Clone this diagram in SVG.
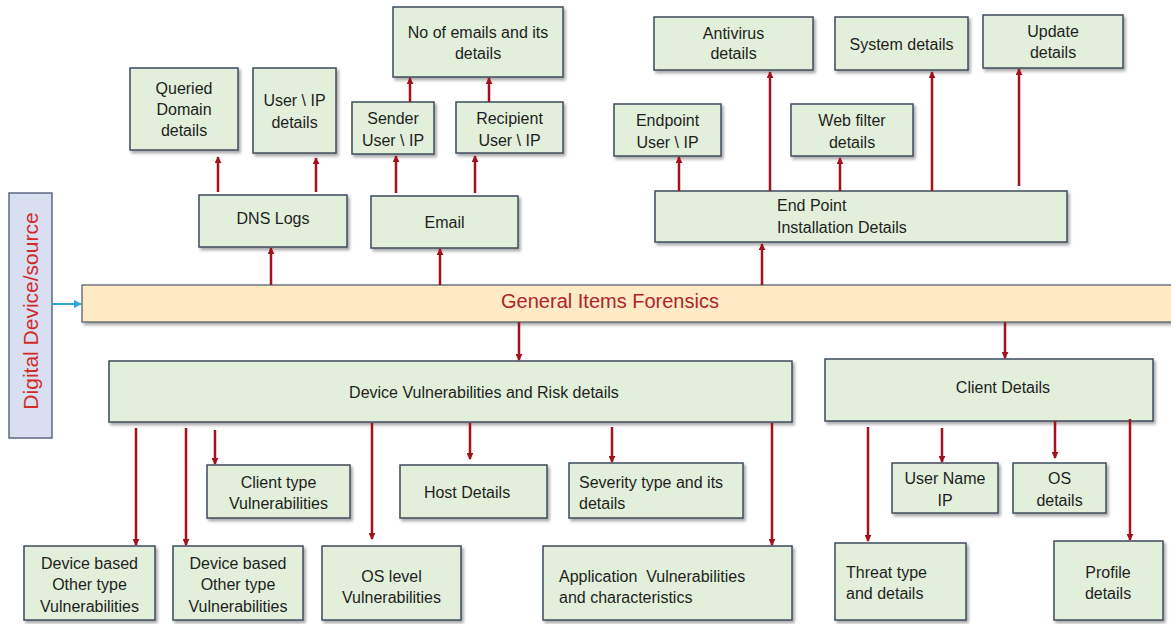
<svg xmlns="http://www.w3.org/2000/svg" width="1171" height="624" viewBox="0 0 1171 624">
  <defs>
    <filter id="shadow" x="-10%" y="-10%" width="125%" height="140%">
      <feDropShadow dx="2" dy="2.5" stdDeviation="1.5" flood-color="#000" flood-opacity="0.35"/>
    </filter>
    <marker id="head" viewBox="0 0 8 8" refX="7" refY="4" markerWidth="7" markerHeight="7" markerUnits="userSpaceOnUse" orient="auto">
      <path d="M0,0 L8,4 L0,8 z" fill="#A3111E"/>
    </marker>
    <marker id="headBlue" viewBox="0 0 8 8" refX="7" refY="4" markerWidth="8" markerHeight="8" markerUnits="userSpaceOnUse" orient="auto">
      <path d="M0,0 L8,4 L0,8 z" fill="#2FA6D8"/>
    </marker>
  </defs>
  <style>
    .box { fill: #E2EFDA; stroke: #3E4B5C; stroke-width: 1.5; filter: url(#shadow); }
    .bar { fill: #FEEBC6; stroke: #4A5566; stroke-width: 1.2; filter: url(#shadow); }
    .src { fill: #D7DFF1; stroke: #5C6A84; stroke-width: 1.5; }
    text { font-family: "Liberation Sans", Arial, sans-serif; font-size: 16px; fill: #1E1E1E; }
    .c { text-anchor: middle; }
    .title { font-size: 20px; fill: #B0232A; text-anchor: middle; }
    .vert { font-size: 21px; fill: #D22A2A; text-anchor: middle; }
    .conn line { stroke: #A3111E; stroke-width: 2.5; marker-end: url(#head); }
    .conn line.blue { stroke: #2FA6D8; stroke-width: 2; marker-end: url(#headBlue); }
  </style>

  <rect width="1171" height="624" fill="#FFFFFF"/>

  <!-- source column -->
  <g id="digital-device">
    <rect class="src" x="9" y="193" width="43" height="245"/>
    <text class="vert" transform="translate(38,311) rotate(-90)">Digital Device/source</text>
  </g>

  <!-- central bar -->
  <g id="general-items">
    <rect class="bar" x="82" y="285" width="1095" height="37"/>
    <text class="title" x="610" y="308">General Items Forensics</text>
  </g>

  <!-- DNS branch -->
  <g id="queried-domain">
    <rect class="box" x="130" y="68" width="108" height="82"/>
    <text class="c" x="184" y="94">Queried</text>
    <text class="c" x="184" y="115">Domain</text>
    <text class="c" x="184" y="136">details</text>
  </g>
  <g id="dns-user-ip">
    <rect class="box" x="253" y="68" width="83" height="85"/>
    <text class="c" x="294.5" y="106">User \ IP</text>
    <text class="c" x="294.5" y="128">details</text>
  </g>
  <g id="dns-logs">
    <rect class="box" x="199" y="195" width="148" height="52"/>
    <text class="c" x="273" y="224">DNS Logs</text>
  </g>

  <!-- Email branch -->
  <g id="no-of-emails">
    <rect class="box" x="393" y="7" width="170" height="70"/>
    <text class="c" x="478" y="38">No of emails and its</text>
    <text class="c" x="478" y="59">details</text>
  </g>
  <g id="sender">
    <rect class="box" x="352" y="102" width="82" height="52"/>
    <text class="c" x="393" y="124">Sender</text>
    <text class="c" x="393" y="146">User \ IP</text>
  </g>
  <g id="recipient">
    <rect class="box" x="456" y="102" width="107" height="51"/>
    <text class="c" x="509.5" y="124">Recipient</text>
    <text class="c" x="509.5" y="146">User \ IP</text>
  </g>
  <g id="email">
    <rect class="box" x="371" y="196" width="147" height="52"/>
    <text class="c" x="444.5" y="228">Email</text>
  </g>

  <!-- End point branch -->
  <g id="antivirus">
    <rect class="box" x="654" y="17" width="159" height="53"/>
    <text class="c" x="733.5" y="39">Antivirus</text>
    <text class="c" x="733.5" y="59">details</text>
  </g>
  <g id="system-details">
    <rect class="box" x="835" y="17" width="133" height="53"/>
    <text class="c" x="901.5" y="50">System details</text>
  </g>
  <g id="update-details">
    <rect class="box" x="983" y="15" width="140" height="53"/>
    <text class="c" x="1053" y="37">Update</text>
    <text class="c" x="1053" y="58">details</text>
  </g>
  <g id="endpoint-user">
    <rect class="box" x="614" y="104" width="107" height="52"/>
    <text class="c" x="667.5" y="126">Endpoint</text>
    <text class="c" x="667.5" y="148">User \ IP</text>
  </g>
  <g id="web-filter">
    <rect class="box" x="791" y="104" width="122" height="52"/>
    <text class="c" x="852" y="126">Web filter</text>
    <text class="c" x="852" y="148">details</text>
  </g>
  <g id="endpoint-install">
    <rect class="box" x="655" y="191" width="412" height="51"/>
    <text x="777" y="211">End Point</text>
    <text x="777" y="233">Installation Details</text>
  </g>

  <!-- Vulnerability branch -->
  <g id="device-vuln">
    <rect class="box" x="109" y="361" width="683" height="61"/>
    <text class="c" x="484" y="398">Device Vulnerabilities and Risk details</text>
  </g>
  <g id="client-type">
    <rect class="box" x="207" y="465" width="143" height="53"/>
    <text class="c" x="278.5" y="488">Client type</text>
    <text class="c" x="278.5" y="509">Vulnerabilities</text>
  </g>
  <g id="host-details">
    <rect class="box" x="400" y="465" width="147" height="53"/>
    <text class="c" x="467" y="498">Host Details</text>
  </g>
  <g id="severity">
    <rect class="box" x="569" y="463" width="174" height="55"/>
    <text x="579" y="488">Severity type and its</text>
    <text x="579" y="509">details</text>
  </g>
  <g id="device-based-1">
    <rect class="box" x="24" y="546" width="131" height="74"/>
    <text class="c" x="89.5" y="569">Device based</text>
    <text class="c" x="89.5" y="590">Other type</text>
    <text class="c" x="89.5" y="612">Vulnerabilities</text>
  </g>
  <g id="device-based-2">
    <rect class="box" x="173" y="546" width="130" height="74"/>
    <text class="c" x="238" y="569">Device based</text>
    <text class="c" x="238" y="590">Other type</text>
    <text class="c" x="238" y="612">Vulnerabilities</text>
  </g>
  <g id="os-level">
    <rect class="box" x="322" y="546" width="139" height="74"/>
    <text class="c" x="391.5" y="582">OS level</text>
    <text class="c" x="391.5" y="603">Vulnerabilities</text>
  </g>
  <g id="application">
    <rect class="box" x="543" y="546" width="249" height="74"/>
    <text x="559" y="582" xml:space="preserve">Application  Vulnerabilities</text>
    <text x="559" y="603">and characteristics</text>
  </g>

  <!-- Client branch -->
  <g id="client-details">
    <rect class="box" x="825" y="359" width="328" height="62"/>
    <text class="c" x="1003" y="393">Client Details</text>
  </g>
  <g id="user-name">
    <rect class="box" x="892" y="463" width="106" height="50"/>
    <text class="c" x="945" y="484">User Name</text>
    <text class="c" x="945" y="506">IP</text>
  </g>
  <g id="os-details">
    <rect class="box" x="1013" y="463" width="93" height="50"/>
    <text class="c" x="1059.5" y="484">OS</text>
    <text class="c" x="1059.5" y="506">details</text>
  </g>
  <g id="threat-type">
    <rect class="box" x="835" y="543" width="131" height="77"/>
    <text x="846" y="578">Threat type</text>
    <text x="846" y="599">and details</text>
  </g>
  <g id="profile-details">
    <rect class="box" x="1054" y="541" width="109" height="79"/>
    <text class="c" x="1108" y="578">Profile</text>
    <text class="c" x="1108" y="599">details</text>
  </g>

  <!-- connectors -->
  <g id="connectors" class="conn">
    <line class="blue" x1="52" y1="304" x2="81" y2="304"/>
    <!-- upward -->
    <line x1="218" y1="192" x2="218" y2="157"/>
    <line x1="316" y1="192" x2="316" y2="158"/>
    <line x1="271" y1="285" x2="271" y2="248"/>
    <line x1="440" y1="285" x2="440" y2="249"/>
    <line x1="396" y1="193" x2="396" y2="156"/>
    <line x1="475" y1="193" x2="475" y2="156"/>
    <line x1="410" y1="102" x2="410" y2="78"/>
    <line x1="489" y1="102" x2="489" y2="78"/>
    <line x1="679" y1="191" x2="679" y2="157"/>
    <line x1="770" y1="191" x2="770" y2="72"/>
    <line x1="840" y1="191" x2="840" y2="158"/>
    <line x1="932" y1="191" x2="932" y2="72"/>
    <line x1="1019" y1="186" x2="1019" y2="69"/>
    <line x1="762" y1="285" x2="762" y2="244"/>
    <!-- downward -->
    <line x1="519" y1="322" x2="519" y2="360"/>
    <line x1="1005" y1="322" x2="1005" y2="358"/>
    <line x1="136" y1="428" x2="136" y2="545"/>
    <line x1="186" y1="428" x2="186" y2="545"/>
    <line x1="215" y1="430" x2="215" y2="464"/>
    <line x1="372" y1="423" x2="372" y2="539"/>
    <line x1="470" y1="423" x2="470" y2="459"/>
    <line x1="612" y1="427" x2="612" y2="462"/>
    <line x1="772" y1="423" x2="772" y2="545"/>
    <line x1="868" y1="427" x2="868" y2="541"/>
    <line x1="942" y1="428" x2="942" y2="462"/>
    <line x1="1055" y1="421" x2="1055" y2="458"/>
    <line x1="1130" y1="419" x2="1130" y2="540"/>
  </g>
</svg>
